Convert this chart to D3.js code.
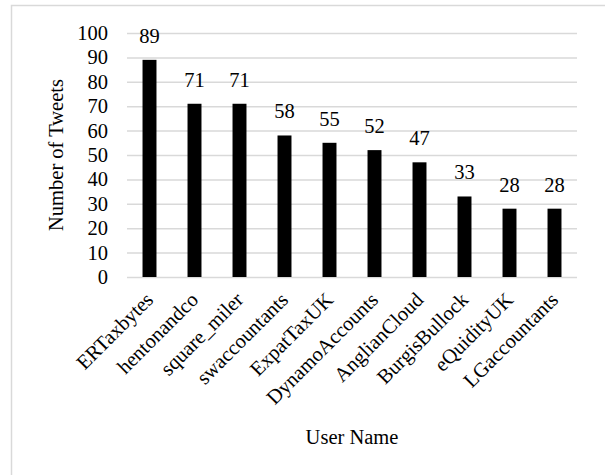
<!DOCTYPE html>
<html>
<head>
<meta charset="utf-8">
<script src="https://cdn.jsdelivr.net/npm/d3@7"></script>
<style>
  body { margin: 0; background: #fff; }
  text { font-family: "Liberation Serif", "Times New Roman", serif; fill: #000; }
</style>
</head>
<body>
<div id="chart"></div>
<script>
// Chart data
var users = ["ERTaxbytes", "hentonandco", "square_miler", "swaccountants", "ExpatTaxUK",
  "DynamoAccounts", "AnglianCloud", "BurgisBullock", "eQuidityUK", "LGaccountants"];
var tweets = [89, 71, 71, 58, 55, 52, 47, 33, 28, 28];
var yTicks = [0, 10, 20, 30, 40, 50, 60, 70, 80, 90, 100];

var width = 605, height = 475;
var margin = { left: 127, right: 28, top: 33, bottom: 198 };
var fontSize = "20.5px";

var svg = d3.select("#chart").append("svg")
  .attr("width", width)
  .attr("height", height);

// Chart area border
svg.append("rect")
  .attr("x", 11.5).attr("y", 5.5)
  .attr("width", width + 10).attr("height", height + 10)
  .style("fill", "#fff").style("stroke", "#d9d9d9").style("stroke-width", 1.5);

var x = d3.scaleBand()
  .domain(users)
  .range([margin.left, width - margin.right])
  .paddingInner(0.69)
  .paddingOuter(0.345);

var y = d3.scaleLinear()
  .domain([0, 100])
  .range([height - margin.bottom, margin.top]);

// Gridlines + y labels
var yAxis = d3.axisLeft(y)
  .tickValues(yTicks)
  .tickSize(-(width - margin.left - margin.right))
  .tickPadding(19);

var gy = svg.append("g")
  .attr("transform", `translate(${margin.left},0)`)
  .call(yAxis)
  .attr("font-family", "'Liberation Serif', serif")
  .attr("font-size", fontSize);
gy.select(".domain").remove();
gy.selectAll(".tick line").style("stroke", "#d9d9d9").style("stroke-width", 1.5);
gy.selectAll(".tick text").style("fill", "#000");

// Bars
svg.append("g").selectAll("rect.bar")
  .data(users)
  .enter().append("rect")
  .attr("class", "bar")
  .attr("x", function (d) { return x(d); })
  .attr("width", x.bandwidth())
  .attr("y", function (d, i) { return y(tweets[i]); })
  .attr("height", function (d, i) { return y(0) - y(tweets[i]); })
  .style("fill", "#000");

// Value labels
svg.append("g").selectAll("text.value")
  .data(users)
  .enter().append("text")
  .attr("class", "value")
  .attr("x", function (d) { return x(d) + x.bandwidth() / 2; })
  .attr("y", function (d, i) { return y(tweets[i]) - 17; })
  .attr("text-anchor", "middle")
  .style("font-size", fontSize)
  .text(function (d, i) { return tweets[i]; });

// Category labels, rotated
svg.append("g").selectAll("text.cat")
  .data(users)
  .enter().append("text")
  .attr("class", "cat")
  .attr("text-anchor", "end")
  .attr("transform", function (d) {
    var cx = x(d) + x.bandwidth() / 2 + 5;
    return `translate(${cx},${y(0) + 24}) rotate(-45)`;
  })
  .style("font-size", fontSize)
  .text(function (d) { return d; });

// Axis titles
svg.append("text")
  .attr("x", (margin.left + width - margin.right) / 2)
  .attr("y", 444)
  .attr("text-anchor", "middle")
  .style("font-size", fontSize)
  .text("User Name");

svg.append("text")
  .attr("transform", `translate(63,${(y(0) + y(100)) / 2}) rotate(-90)`)
  .attr("text-anchor", "middle")
  .style("font-size", fontSize)
  .text("Number of Tweets");
</script>
</body>
</html>
